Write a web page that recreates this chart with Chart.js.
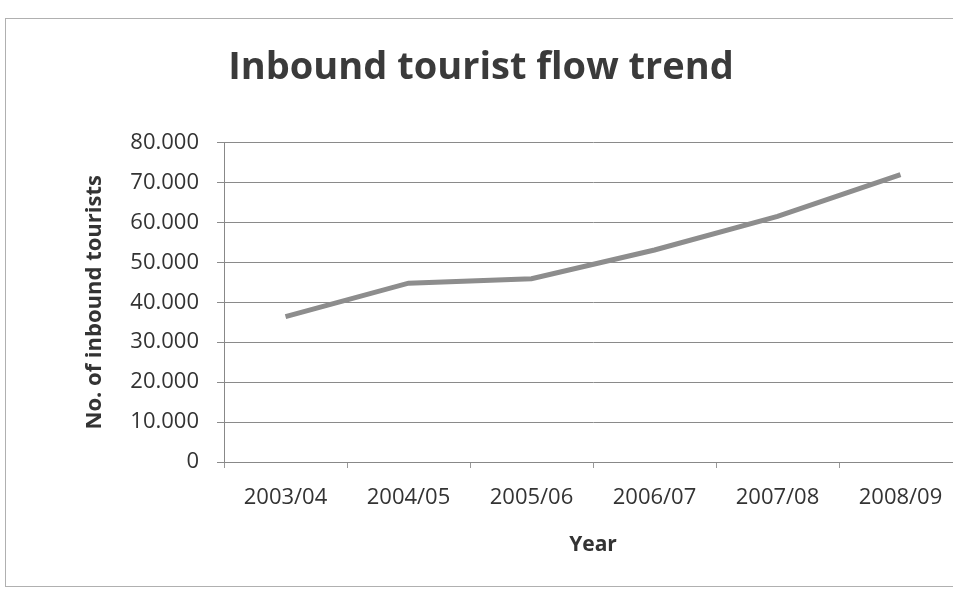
<!DOCTYPE html>
<html><head><meta charset="utf-8">
<script src="https://cdn.jsdelivr.net/npm/chart.js@4/dist/chart.umd.min.js"></script>
<style>
html,body{margin:0;padding:0;background:#fff;overflow:hidden;width:953px;height:589px}
#wrap{position:absolute;left:0;top:0;width:975px;height:589px}
#frame{position:absolute;left:5px;top:18px;width:990px;height:567px;border:1px solid #b0b0b0;}
</style></head><body>
<div id="frame"></div>
<div id="wrap"><canvas id="c" width="975" height="589"></canvas></div>
<script>
const categories = ['2003/04','2004/05','2005/06','2006/07','2007/08','2008/09'];
const inboundTourists = [36400, 44800, 45900, 53100, 61500, 72000];
const yTickValues = [0, 10000, 20000, 30000, 40000, 50000, 60000, 70000, 80000];
const chartTitle = 'Inbound tourist flow trend';
const xTitle = 'Year';
const yTitle = 'No. of inbound tourists';

function fmt(v){
  if (v === 0) return '0';
  const s = String(Math.round(v));
  return s.replace(/\B(?=(\d{3})+(?!\d))/g, '.');
}

const FONT = "'Open Sans', sans-serif";
new Chart(document.getElementById('c'), {
  type: 'line',
  data: {
    labels: categories,
    datasets: [{
      data: inboundTourists,
      borderColor: '#8d8d8d',
      borderWidth: 5,
      pointRadius: 0,
      tension: 0,
      fill: false
    }]
  },
  options: {
    responsive: false,
    animation: false,
    layout: { padding: { left: 0, right: 13, top: 0, bottom: 31 } },
    plugins: {
      legend: { display: false },
      tooltip: { enabled: false },
      title: {
        display: true,
        text: chartTitle,
        color: '#3a3a3a',
        font: { family: FONT, size: 38, weight: '700', lineHeight: 1.2 },
        padding: { top: 45, bottom: 52 }
      }
    },
    scales: {
      x: {
        type: 'category',
        offset: true,
        grid: { offset: true, drawOnChartArea: false, tickLength: 6, color: '#999' },
        border: { display: true, color: '#888' },
        ticks: { color: '#333', padding: 17, font: { family: FONT, size: 22 }, maxRotation: 0 },
        title: { display: true, text: xTitle, color: '#333', font: { family: FONT, size: 21, weight: '700' }, padding: { top: 0, bottom: 0 } },
        afterFit: s => { s.height = 96; }
      },
      y: {
        min: 0, max: 80000,
        afterBuildTicks: s => { s.ticks = yTickValues.map(v => ({ value: v })); },
        grid: { color: '#8a8a8a', lineWidth: 1, tickLength: 7 },
        border: { display: true, color: '#888' },
        ticks: { color: '#333', padding: 18, font: { family: FONT, size: 22 }, callback: v => fmt(v) },
        title: { display: true, text: yTitle, color: '#333', font: { family: FONT, size: 22, weight: '700' }, padding: { top: 82, bottom: 0 } },
        afterFit: s => { s.width = 224; }
      }
    }
  }
});
</script>
</body></html>
